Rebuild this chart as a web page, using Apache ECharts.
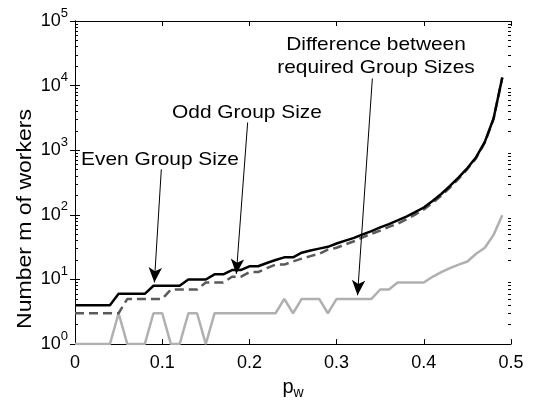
<!DOCTYPE html>
<html>
<head>
<meta charset="utf-8">
<script src="https://cdn.jsdelivr.net/npm/echarts@6/dist/echarts.min.js"></script>
<style>
  html, body { margin: 0; padding: 0; background: #fff; }
  #chart { width: 540px; height: 405px; }
</style>
</head>
<body>
<div id="chart"></div>
<script>
// p_w values along the x axis
const pw = [0.00, 0.01, 0.02, 0.03, 0.04, 0.05, 0.06, 0.07, 0.08, 0.09,
            0.10, 0.11, 0.12, 0.13, 0.14, 0.15, 0.16, 0.17, 0.18, 0.19,
            0.20, 0.21, 0.22, 0.23, 0.24, 0.25, 0.26, 0.27, 0.28, 0.29,
            0.30, 0.31, 0.32, 0.33, 0.34, 0.35, 0.36, 0.37, 0.38, 0.39,
            0.40, 0.41, 0.42, 0.43, 0.44, 0.45, 0.46, 0.47, 0.48, 0.49];

// required number of workers
const evenSize = [4, 4, 4, 4, 4, 6, 6, 6, 6, 8,
                  8, 8, 8, 10, 10, 10, 12, 12, 14, 14,
                  16, 16, 18, 20, 22, 22, 26, 28, 30, 32,
                  36, 40, 44, 50, 56, 64, 72, 82, 94, 110,
                  130, 164, 210, 280, 380, 530, 780, 1350, 3100, 13400];

const oddSize = [3, 3, 3, 3, 3, 3, 5, 5, 5, 5,
                 5, 7, 7, 7, 7, 9, 9, 9, 11, 11,
                 13, 13, 15, 17, 17, 19, 21, 23, 25, 29,
                 31, 35, 39, 45, 51, 57, 65, 73, 85, 101,
                 121, 153, 197, 265, 363, 511, 755, 1319, 3051, 13301];

const diffSize = [1, 1, 1, 1, 1, 3, 1, 1, 1, 3,
                  3, 1, 1, 3, 3, 1, 3, 3, 3, 3,
                  3, 3, 3, 3, 5, 3, 5, 5, 5, 3,
                  5, 5, 5, 5, 5, 7, 7, 9, 9, 9,
                  9, 11, 13, 15, 17, 19, 25, 31, 49, 99];

// annotation arrows: [from, to] in data coords
const arrows = [
    [[0.099, 506], [0.091, 9]],
    [[0.198, 2690], [0.185, 12.2]],
    [[0.341, 12900], [0.324, 5.7]]
];

const FONT = '"Liberation Sans", Arial, Helvetica, sans-serif';

const chart = echarts.init(document.getElementById('chart'));

const pairs = arr => pw.map((x, i) => [x, arr[i]]);

// minor tick positions for the log axis (2..9 per decade)
const minorTicks = [];
for (let d = 0; d < 5; d++) {
    for (let k = 2; k <= 9; k++) minorTicks.push(k * Math.pow(10, d));
}

const logAxisBase = {
    type: 'log',
    logBase: 10,
    min: 1,
    max: 100000,
    splitLine: { show: false }
};

const note = (text, x, y, align) => ({
    type: 'text', x: x, y: y, scaleX: 1.1,
    style: { text: text, font: '19px ' + FONT, fill: '#000',
             textAlign: align, textVerticalAlign: 'middle' }
});

const option = {
    animation: false,
    backgroundColor: '#fff',
    grid: { left: 75, right: 29, top: 21, bottom: 53 },
    xAxis: [
        {
            type: 'value',
            min: 0,
            max: 0.5,
            interval: 0.1,
            name: '{p|p}{w|w}',
            nameLocation: 'middle',
            nameGap: 24,
            nameTextStyle: {
                rich: {
                    p: { fontSize: 20, fontFamily: FONT, color: '#000' },
                    w: { fontSize: 14, fontFamily: FONT, color: '#000', padding: [12, 0, 0, 0] }
                }
            },
            axisLine: { lineStyle: { color: '#000', width: 1 } },
            axisTick: { inside: true, length: 5, lineStyle: { color: '#000' } },
            axisLabel: {
                color: '#000', fontSize: 18, fontFamily: FONT, margin: 10,
                formatter: v => String(+v.toFixed(1))
            },
            splitLine: { show: false }
        },
        {
            type: 'value',
            position: 'top',
            min: 0,
            max: 0.5,
            interval: 0.1,
            axisLine: { lineStyle: { color: '#000', width: 1 } },
            axisTick: { inside: true, length: 5, lineStyle: { color: '#000' } },
            axisLabel: { show: false },
            splitLine: { show: false }
        }
    ],
    yAxis: [
        Object.assign({}, logAxisBase, {
            position: 'left',
            axisLine: { show: true, lineStyle: { color: '#000', width: 1 } },
            axisTick: { inside: true, length: 5, lineStyle: { color: '#000' } },
            axisLabel: {
                margin: 7,
                formatter: v => '{b|10}{s|' + Math.round(Math.log10(v)) + '}',
                rich: {
                    b: { fontSize: 18, fontFamily: FONT, color: '#000', verticalAlign: 'middle' },
                    s: { fontSize: 13, fontFamily: FONT, color: '#000', verticalAlign: 'middle', padding: [0, 0, 16, 0] }
                }
            }
        }),
        Object.assign({}, logAxisBase, {
            position: 'right',
            axisLine: { show: true, lineStyle: { color: '#000', width: 1 } },
            axisTick: { inside: true, length: 5, lineStyle: { color: '#000' } },
            axisLabel: { show: false }
        }),
        Object.assign({}, logAxisBase, {
            position: 'left',
            axisLine: { show: false },
            axisTick: { inside: true, length: 3, customValues: minorTicks, lineStyle: { color: '#000' } },
            axisLabel: { show: false }
        }),
        Object.assign({}, logAxisBase, {
            position: 'right',
            axisLine: { show: false },
            axisTick: { inside: true, length: 3, customValues: minorTicks, lineStyle: { color: '#000' } },
            axisLabel: { show: false }
        })
    ],
    graphic: [
        {
            type: 'text', x: 25, y: 219, rotation: Math.PI / 2, scaleX: 1.15,
            style: { text: 'Number m of workers', font: '20px ' + FONT, fill: '#000',
                     textAlign: 'center', textVerticalAlign: 'middle' }
        },
        note('Even Group Size', 81, 160, 'left'),
        note('Odd Group Size', 172, 113, 'left'),
        note('Difference between', 376, 45, 'center'),
        note('required Group Sizes', 376, 68, 'center')
    ],
    series: [
        {
            name: 'Difference',
            type: 'line',
            data: pairs(diffSize),
            showSymbol: false,
            lineStyle: { color: '#b0b0b0', width: 2.5 },
            z: 2,
            markLine: {
                silent: true,
                symbol: ['none', 'arrow'],
                symbolSize: [10, 15],
                label: { show: false },
                lineStyle: { color: '#000', width: 1, type: 'solid' },
                itemStyle: { color: '#000' },
                data: arrows.map(a => [{ coord: a[0] }, { coord: a[1] }])
            }
        },
        {
            name: 'Odd Group Size',
            type: 'line',
            data: pairs(oddSize),
            showSymbol: false,
            lineStyle: { color: '#5a5a5a', width: 2.5, type: [9, 5] },
            z: 3
        },
        {
            name: 'Even Group Size',
            type: 'line',
            data: pairs(evenSize),
            showSymbol: false,
            lineStyle: { color: '#000', width: 2.5 },
            z: 4
        }
    ]
};

chart.setOption(option);
</script>
</body>
</html>
